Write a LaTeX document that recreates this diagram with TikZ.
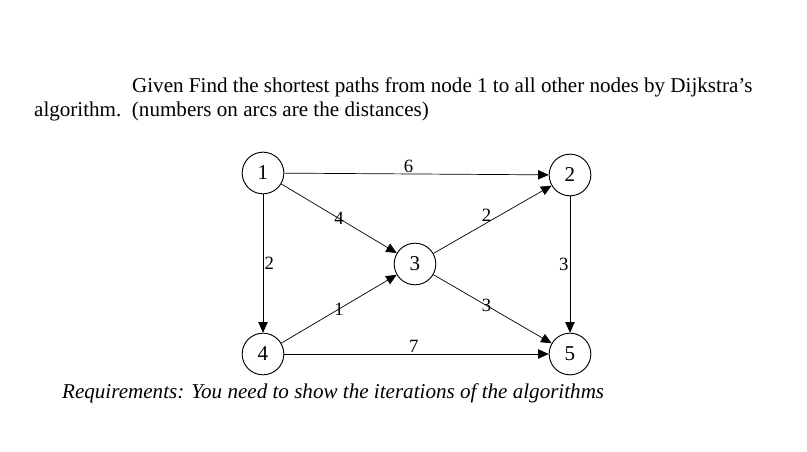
\documentclass[tikz,border=0pt]{standalone}
\usepackage{fontspec}
\setmainfont{Liberation Serif}
\usetikzlibrary{positioning, quotes, arrows.meta}

\begin{document}
\begin{tikzpicture}[x=0.03cm, y=-0.03cm,
                    every node/.style = {text=black, font=\fontsize{18}{21}\selectfont},
                    vertex/.style = {draw, circle, thick, minimum size=1.25cm, inner sep=0pt},
                    every edge/.style = {draw, semithick, -{Triangle[length=9pt,width=8pt]}},
                    every edge quotes/.style = {font=\fontsize{16}{19}\selectfont, inner sep=1pt}]
    \useasboundingbox (0,0) rectangle (807,452);
    % question text
    \node (q1) [anchor=west] at (128,87) {Given Find the shortest paths from node 1 to all other nodes by Dijkstra's};
    \node (q2) [anchor=west] at (30,111) {algorithm.\ \ (numbers on arcs are the distances)};
    % graph
    \node (n1) [vertex] at (263,173) {1};
    \node (n2) [vertex] at (570,175) {2};
    \node (n3) [vertex] at (415,264) {3};
    \node (n4) [vertex] at (263,354) {4};
    \node (n5) [vertex] at (570,354) {5};
    \draw (n1) edge["6", pos=0.47, above=-4pt] (n2);
    \draw (n1) edge["4", pos=0.5] (n3);
    \draw (n1) edge["2", right, pos=0.5] (n4);
    \draw (n3) edge["2", above, pos=0.45, xshift=-3pt] (n2);
    \draw (n3) edge["3", pos=0.45] (n5);
    \draw (n2) edge["3", left, pos=0.5] (n5);
    \draw (n4) edge["1", pos=0.5] (n3);
    \draw (n4) edge["7", pos=0.49, above=-4pt] (n5);
    % requirement
    \node (req) [anchor=west, font=\fontsize{18}{21}\selectfont\itshape] at (58,393) {Requirements: You need to show the iterations of the algorithms};
\end{tikzpicture}
\end{document}
